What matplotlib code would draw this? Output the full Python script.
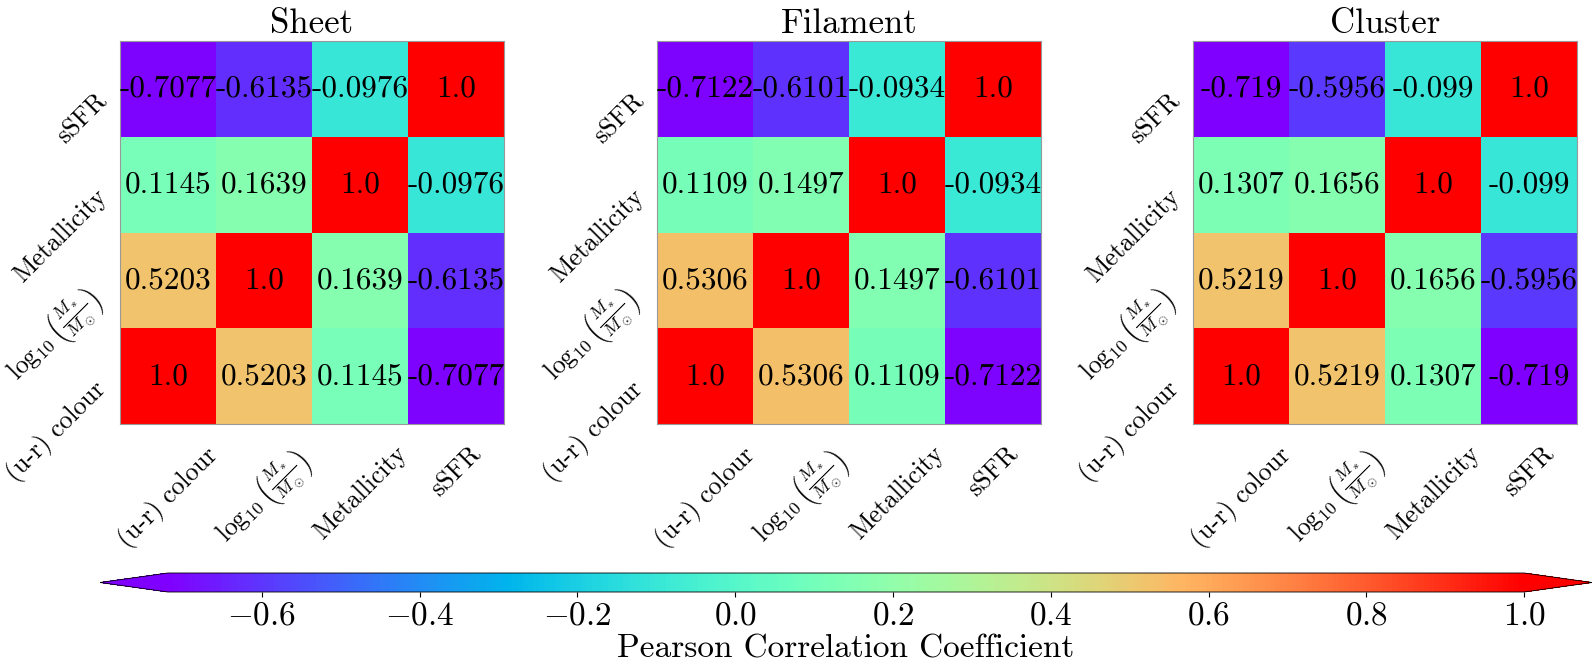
import matplotlib
matplotlib.use("Agg")
import matplotlib.pyplot as plt
import numpy as np
from matplotlib.colors import Normalize

plt.rcParams["font.family"] = "serif"
plt.rcParams["font.serif"] = ["cmr10"]
plt.rcParams["mathtext.fontset"] = "cm"
plt.rcParams["axes.formatter.use_mathtext"] = True
plt.rcParams["axes.unicode_minus"] = True

labels = [
    "(u-r) colour",
    r"$\log_{10}\left(\frac{M_*}{M_\odot}\right)$",
    "Metallicity",
    "sSFR",
]
titles = ["Sheet", "Filament", "Cluster"]

# rows bottom -> top: colour, mass, metallicity, sSFR
corr_sheet = np.array([
    [1.0, 0.5203, 0.1145, -0.7077],
    [0.5203, 1.0, 0.1639, -0.6135],
    [0.1145, 0.1639, 1.0, -0.0976],
    [-0.7077, -0.6135, -0.0976, 1.0],
])
corr_filament = np.array([
    [1.0, 0.5306, 0.1109, -0.7122],
    [0.5306, 1.0, 0.1497, -0.6101],
    [0.1109, 0.1497, 1.0, -0.0934],
    [-0.7122, -0.6101, -0.0934, 1.0],
])
corr_cluster = np.array([
    [1.0, 0.5219, 0.1307, -0.719],
    [0.5219, 1.0, 0.1656, -0.5956],
    [0.1307, 0.1656, 1.0, -0.099],
    [-0.719, -0.5956, -0.099, 1.0],
])
mats = [corr_sheet, corr_filament, corr_cluster]

vmin = min(m.min() for m in mats)
norm = Normalize(vmin=vmin, vmax=1.0)

fig = plt.figure(figsize=(15.92, 6.62), dpi=100)
lefts = [120 / 1592, 657 / 1592, 1193 / 1592]

for left, mat, title in zip(lefts, mats, titles):
    ax = fig.add_axes([left, 1 - 424 / 662, 384 / 1592, 383 / 662])
    im = ax.imshow(mat, cmap="rainbow", norm=norm, origin="lower", aspect="auto")
    n = len(labels)
    for i in range(n):
        for j in range(n):
            ax.text(j, i, str(round(mat[i, j], 4)), ha="center", va="center",
                    fontsize=22.5, color="black")
    ax.set_xticks(range(n))
    ax.set_yticks(range(n))
    ax.set_xticklabels(labels, rotation=45, ha="center", fontsize=18.5)
    ax.set_yticklabels(labels, rotation=45, ha="right", va="top", fontsize=18.5)
    ax.tick_params(length=0)
    ax.tick_params(axis="x", pad=13)
    ax.tick_params(axis="y", pad=6)
    ax.set_title(title, fontsize=25, pad=6)
    for sp in ax.spines.values():
        sp.set_color("#999999")
        sp.set_linewidth(0.8)

cax = fig.add_axes([100 / 1592, 1 - 592 / 662, 1492 / 1592, 19 / 662])
cbar = fig.colorbar(im, cax=cax, orientation="horizontal", extend="both")
cbar.set_ticks([-0.6, -0.4, -0.2, 0.0, 0.2, 0.4, 0.6, 0.8, 1.0])
cbar.ax.tick_params(labelsize=24)
cbar.set_label("Pearson Correlation Coefficient", fontsize=24, labelpad=3)
cbar.outline.set_linewidth(0.6)

fig.savefig("out.png", dpi=100)
